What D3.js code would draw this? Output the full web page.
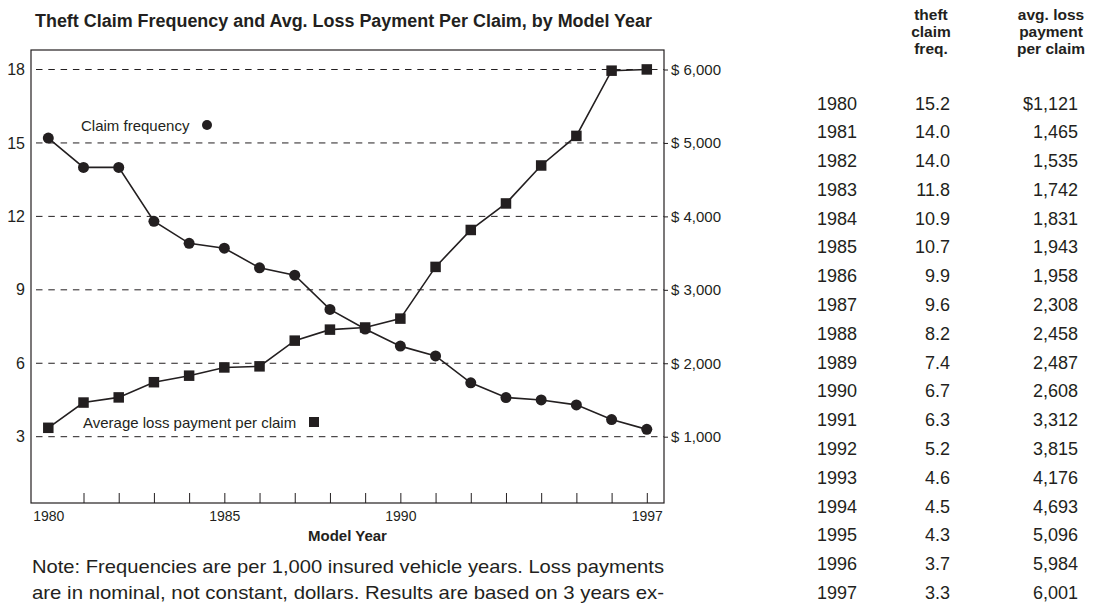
<!DOCTYPE html>
<html>
<head>
<meta charset="utf-8">
<script src="https://cdn.jsdelivr.net/npm/d3@7"></script>
<style>
  html, body { margin: 0; padding: 0; background: #fff; }
  svg { display: block; }
  text { font-family: "Liberation Sans", Arial, Helvetica, sans-serif; fill: #231f20; }
</style>
</head>
<body>
<svg id="chart" width="1097" height="605"></svg>
<script>
// ---- data ----
const years = [1980,1981,1982,1983,1984,1985,1986,1987,1988,1989,1990,1991,1992,1993,1994,1995,1996,1997];
const claimFreq = [15.2,14.0,14.0,11.8,10.9,10.7,9.9,9.6,8.2,7.4,6.7,6.3,5.2,4.6,4.5,4.3,3.7,3.3];
const avgLoss = [1121,1465,1535,1742,1831,1943,1958,2308,2458,2487,2608,3312,3815,4176,4693,5096,5984,6001];
const freqTicks = [3,6,9,12,15,18];
const dollarTicks = [1000,2000,3000,4000,5000,6000];
const yearLabels = [1980,1985,1990,1997];
const titleText = "Theft Claim Frequency and Avg. Loss Payment Per Claim, by Model Year";
const noteLines = [
  "Note: Frequencies are per 1,000 insured vehicle years. Loss payments",
  "are in nominal, not constant, dollars. Results are based on 3 years ex-"
];
const headFreq = ["theft","claim","freq."];
const headLoss = ["avg. loss","payment","per claim"];
const legendFreq = "Claim frequency";
const legendLoss = "Average loss payment per claim";
const xTitle = "Model Year";

// ---- layout ----
const box = {left: 31, right: 664, top: 50, bottom: 503};
const ink = "#231f20";

const svg = d3.select("#chart");

const x = d3.scaleLinear().domain([1980,1997]).range([48.3, 646.8]);
const yF = d3.scaleLinear().domain([3,18]).range([436.7, 69.5]);
const yD = d3.scaleLinear().domain([1000,6000]).range([436.7, 69.5]);

// title
svg.append("text")
  .attr("x", 35).attr("y", 27)
  .attr("font-size", 18).attr("font-weight", "bold")
  .attr("textLength", 617).attr("lengthAdjust", "spacingAndGlyphs")
  .text(titleText);

// gridlines (dashed)
svg.append("g").selectAll("line").data(freqTicks).join("line")
  .attr("x1", 36).attr("x2", box.right)
  .attr("y1", d => yF(d)).attr("y2", d => yF(d))
  .attr("stroke", ink).attr("stroke-width", 1)
  .attr("stroke-dasharray", "6.5,5.8");

// box frame
svg.append("rect")
  .attr("x", box.left).attr("y", box.top)
  .attr("width", box.right - box.left).attr("height", box.bottom - box.top)
  .attr("fill", "none").attr("stroke", ink).attr("stroke-width", 1.2);

// left axis labels
const gl = svg.append("g").attr("transform", `translate(${box.left},0)`)
  .call(d3.axisLeft(yF).tickValues(freqTicks).tickSize(0).tickPadding(6));
gl.select(".domain").remove();
gl.selectAll("text").attr("font-size", 16).attr("font-family", null).attr("fill", ink);

// right axis
const gr = svg.append("g").attr("transform", `translate(${box.right},0)`)
  .call(d3.axisRight(yD).tickValues(dollarTicks).tickSize(4).tickPadding(3)
    .tickFormat(d => "$ " + d3.format(",")(d)));
gr.select(".domain").remove();
gr.selectAll("line").attr("stroke", ink);
gr.selectAll("text").attr("font-size", 15).attr("font-family", null).attr("fill", ink);

// bottom ticks (inside)
const gb = svg.append("g").attr("transform", `translate(0,${box.bottom})`)
  .call(d3.axisBottom(x).tickValues(years.slice(1)).tickSize(-10).tickFormat(""));
gb.select(".domain").remove();
gb.selectAll("line").attr("stroke", ink).attr("stroke-width", 1);

// bottom labels
const gbl = svg.append("g").attr("transform", `translate(0,${box.bottom})`)
  .call(d3.axisBottom(x).tickValues(yearLabels).tickSize(0).tickPadding(8).tickFormat(d3.format("d")));
gbl.select(".domain").remove();
gbl.selectAll("text").attr("font-size", 14).attr("font-family", null).attr("fill", ink);

svg.append("text")
  .attr("x", (box.left + box.right) / 2).attr("y", 541)
  .attr("text-anchor", "middle").attr("font-size", 15).attr("font-weight", "bold")
  .text(xTitle);

// lines
const lineF = d3.line().x((d,i) => x(years[i])).y(d => yF(d));
const lineD = d3.line().x((d,i) => x(years[i])).y(d => yD(d));

svg.append("path").datum(claimFreq).attr("d", lineF)
  .attr("fill", "none").attr("stroke", ink).attr("stroke-width", 1.6);
svg.append("path").datum(avgLoss).attr("d", lineD)
  .attr("fill", "none").attr("stroke", ink).attr("stroke-width", 1.6);

svg.append("g").selectAll("circle").data(claimFreq).join("circle")
  .attr("cx", (d,i) => x(years[i])).attr("cy", d => yF(d)).attr("r", 5.5)
  .attr("fill", ink);

const sq = 10.5;
svg.append("g").selectAll("rect").data(avgLoss).join("rect")
  .attr("x", (d,i) => x(years[i]) - sq/2).attr("y", d => yD(d) - sq/2)
  .attr("width", sq).attr("height", sq).attr("fill", ink);

// legend labels
svg.append("text").attr("x", 81).attr("y", 130.5).attr("font-size", 15).text(legendFreq);
svg.append("circle").attr("cx", 207).attr("cy", 125).attr("r", 5).attr("fill", ink);
svg.append("text").attr("x", 83).attr("y", 427.5).attr("font-size", 15).text(legendLoss);
svg.append("rect").attr("x", 309).attr("y", 417).attr("width", 10).attr("height", 10).attr("fill", ink);

// note
svg.append("g").selectAll("text").data(noteLines).join("text")
  .attr("x", 32).attr("y", (d,i) => 573 + i * 26)
  .attr("font-size", 19)
  .attr("textLength", 632).attr("lengthAdjust", "spacingAndGlyphs")
  .text(d => d);

// ---- table ----
const rowY = d3.scalePoint().domain(years).range([103, 592.5]);
const tbl = svg.append("g");
tbl.append("g").selectAll("text").data(headFreq).join("text")
  .attr("x", 931).attr("y", (d,i) => 20 + i * 17)
  .attr("text-anchor", "middle").attr("font-size", 15.5).attr("font-weight", "bold")
  .text(d => d);
tbl.append("g").selectAll("text").data(headLoss).join("text")
  .attr("x", 1051).attr("y", (d,i) => 20 + i * 17)
  .attr("text-anchor", "middle").attr("font-size", 15.5).attr("font-weight", "bold")
  .text(d => d);

tbl.append("g").selectAll("text").data(years).join("text")
  .attr("x", 817).attr("y", d => rowY(d) + 6.5)
  .attr("font-size", 18).text(d => d);
tbl.append("g").selectAll("text").data(claimFreq).join("text")
  .attr("x", 950).attr("y", (d,i) => rowY(years[i]) + 6.5)
  .attr("text-anchor", "end").attr("font-size", 18).text(d => d3.format(".1f")(d));
tbl.append("g").selectAll("text").data(avgLoss).join("text")
  .attr("x", 1078).attr("y", (d,i) => rowY(years[i]) + 6.5)
  .attr("text-anchor", "end").attr("font-size", 18)
  .text((d,i) => (i === 0 ? "$" : "") + d3.format(",")(d));
</script>
</body>
</html>
